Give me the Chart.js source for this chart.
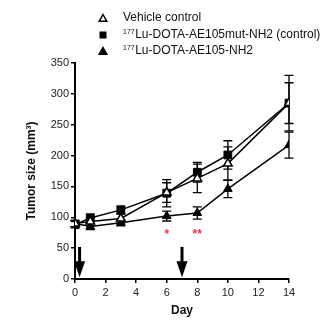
<!DOCTYPE html>
<html><head><meta charset="utf-8">
<script src="https://cdn.jsdelivr.net/npm/chart.js@4/dist/chart.umd.min.js"></script>
<style>html,body{margin:0;padding:0;background:#fff}#wrap{width:330px;height:324px}</style>
</head><body><div id="wrap"><canvas id="c" width="330" height="324"></canvas></div>
<script>
const days = [0, 1, 3, 6, 8, 10, 14];
const vehicle = [90, 93, 98, 140, 163, 187, 285];
const vehicleErr = [5, 6, 7, 16, 23, 27, 33];
const mutControl = [88, 99, 112, 139, 173, 201, 285];
const mutControlErr = [5, 6, 6, 22, 16, 23, 45];
const ae105 = [90, 85, 91, 102, 107, 146, 217];
const ae105Err = [5, 5, 5, 8, 10, 14, 21];
const legendSup = ['', '177', '177'];
const legendMain = ['Vehicle control', 'Lu-DOTA-AE105mut-NH2 (control)', 'Lu-DOTA-AE105-NH2'];
const starDays = [6, 8];
const starLabels = ['*', '**'];
const starLevel = 75;
const arrowDays = [0.3, 7];
const arrowFrom = 52, arrowTo = 3;
const yTitle = 'Tumor size (mm³)';
const xTitle = 'Day';

const FONT = '"Liberation Sans", Arial, sans-serif';
const errs = [vehicleErr, mutControlErr, ae105Err];

const errorBars = {
  id: 'errorBars',
  beforeDatasetsDraw(chart) {
    const ctx = chart.ctx, xs = chart.scales.x, ys = chart.scales.y;
    ctx.save();
    ctx.strokeStyle = '#000'; ctx.lineWidth = 1.3;
    chart.data.datasets.forEach((ds, i) => {
      ds.data.forEach((p, j) => {
        const x = xs.getPixelForValue(p.x);
        const y1 = ys.getPixelForValue(p.y + errs[i][j]);
        const y2 = ys.getPixelForValue(p.y - errs[i][j]);
        ctx.beginPath();
        ctx.moveTo(x, y1); ctx.lineTo(x, y2);
        ctx.moveTo(x - 4.5, y1); ctx.lineTo(x + 4.5, y1);
        ctx.moveTo(x - 4.5, y2); ctx.lineTo(x + 4.5, y2);
        ctx.stroke();
      });
    });
    ctx.restore();
  }
};

function tri(ctx, x, y, r, fill) {
  ctx.beginPath();
  ctx.moveTo(x, y - r);
  ctx.lineTo(x + r * 0.95, y + r * 0.7);
  ctx.lineTo(x - r * 0.95, y + r * 0.7);
  ctx.closePath();
  ctx.fillStyle = fill ? '#000' : '#fff';
  ctx.fill();
  ctx.lineWidth = 1.5; ctx.strokeStyle = '#000';
  ctx.stroke();
}

const extras = {
  id: 'extras',
  afterDraw(chart) {
    const ctx = chart.ctx, xs = chart.scales.x, ys = chart.scales.y;
    ctx.save();
    ctx.fillStyle = '#e8374f';
    ctx.font = 'bold 12px ' + FONT;
    ctx.textAlign = 'center'; ctx.textBaseline = 'middle';
    starDays.forEach((d, i) => {
      ctx.fillText(starLabels[i], xs.getPixelForValue(d), ys.getPixelForValue(starLevel) + 2);
    });
    ctx.fillStyle = '#000'; ctx.strokeStyle = '#000';
    arrowDays.forEach(d => {
      const x = xs.getPixelForValue(d);
      const yt = ys.getPixelForValue(arrowFrom), yb = ys.getPixelForValue(arrowTo);
      ctx.lineWidth = 3;
      ctx.beginPath(); ctx.moveTo(x, yt); ctx.lineTo(x, yb - 12); ctx.stroke();
      ctx.beginPath(); ctx.moveTo(x - 5.5, yb - 16); ctx.lineTo(x + 5.5, yb - 16); ctx.lineTo(x, yb); ctx.closePath(); ctx.fill();
    });
    const lx = 103, tx = 123, rows = [18, 35, 51];
    tri(ctx, lx, rows[0] + 0.5, 4, false);
    ctx.fillStyle = '#000'; ctx.fillRect(lx - 3.5, rows[1] - 3.5, 7, 7);
    tri(ctx, lx, rows[2] + 0.5, 4, true);
    ctx.fillStyle = '#111'; ctx.textAlign = 'left'; ctx.textBaseline = 'middle';
    rows.forEach((ry, i) => {
      let x = tx;
      if (legendSup[i]) {
        ctx.font = '7px ' + FONT;
        ctx.fillText(legendSup[i], x, ry - 3);
        x += ctx.measureText(legendSup[i]).width + 0.5;
      }
      ctx.font = '12px ' + FONT;
      ctx.fillText(legendMain[i], x, ry);
    });
    ctx.restore();
  }
};

const mk = arr => days.map((d, i) => ({ x: d, y: arr[i] }));

new Chart(document.getElementById('c'), {
  type: 'line',
  data: {
    datasets: [
      { label: legendMain[0], data: mk(vehicle), borderColor: '#000', borderWidth: 1.5,
        pointStyle: 'triangle', pointRadius: 5, pointBackgroundColor: '#fff', pointBorderColor: '#000', pointBorderWidth: 1.5, tension: 0 },
      { label: legendMain[1], data: mk(mutControl), borderColor: '#000', borderWidth: 1.5,
        pointStyle: 'rect', pointRadius: 5.5, pointBackgroundColor: '#000', pointBorderColor: '#000', pointBorderWidth: 1, tension: 0 },
      { label: legendMain[2], data: mk(ae105), borderColor: '#000', borderWidth: 1.5,
        pointStyle: 'triangle', pointRadius: 5, pointBackgroundColor: '#000', pointBorderColor: '#000', pointBorderWidth: 1, tension: 0 }
    ]
  },
  options: {
    responsive: false, animation: false, devicePixelRatio: 1,
    layout: { padding: { left: 0, top: 63, right: 41, bottom: 0 } },
    plugins: { legend: { display: false }, tooltip: { enabled: false } },
    scales: {
      x: {
        type: 'linear', min: 0, max: 14,
        ticks: { stepSize: 2, color: '#222', font: { size: 11, family: FONT }, padding: 3, maxRotation: 0 },
        grid: { drawOnChartArea: false, drawTicks: true, tickLength: 4, color: '#000', lineWidth: 1.5 },
        border: { display: true, color: '#000', width: 2 },
        title: { display: true, text: xTitle, color: '#111', font: { size: 12, weight: 'bold', family: FONT }, padding: { top: 0, bottom: 6 } },
        afterFit: s => { s.height = 45; }
      },
      y: {
        min: 0, max: 350,
        ticks: { stepSize: 50, color: '#222', font: { size: 11, family: FONT }, padding: 2 },
        grid: { drawOnChartArea: false, drawTicks: true, tickLength: 4, color: '#000', lineWidth: 1.5 },
        border: { display: true, color: '#000', width: 2 },
        title: { display: true, text: yTitle, color: '#111', font: { size: 12, weight: 'bold', family: FONT }, padding: { top: 24, bottom: 0 } },
        afterFit: s => { s.width = 75; }
      }
    }
  },
  plugins: [errorBars, extras]
});
</script></body></html>
